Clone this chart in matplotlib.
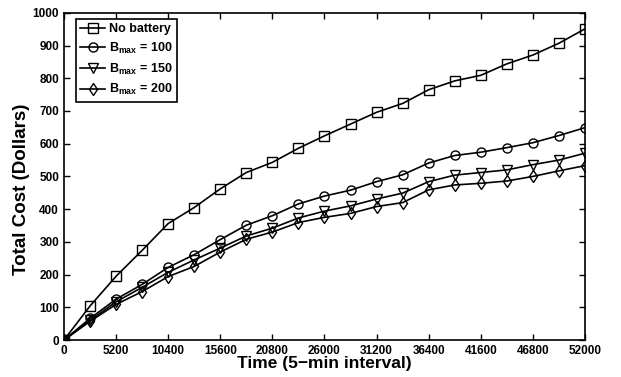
import numpy as np
import matplotlib.pyplot as plt

plt.rcParams['font.family'] = 'Liberation Sans'
plt.rcParams['font.weight'] = 'bold'
plt.rcParams['mathtext.fontset'] = 'custom'
plt.rcParams['mathtext.rm'] = 'Liberation Sans:bold'
plt.rcParams['mathtext.it'] = 'Liberation Sans:bold'

# time axis (5-min intervals)
time = np.arange(0, 52001, 2600)

# total cost in dollars
no_battery = [0, 104, 195, 274, 356, 405, 462, 512, 543, 586, 624, 660, 696,
              723, 765, 792, 809, 844, 871, 907, 951]
bmax_100 = [0, 66, 125, 170, 222, 261, 307, 351, 380, 416, 440, 458, 484,
            505, 541, 564, 574, 588, 603, 625, 649]
bmax_150 = [0, 60, 117, 161, 207, 245, 281, 318, 342, 373, 394, 410, 431,
            449, 484, 504, 512, 520, 536, 550, 571]
bmax_200 = [0, 57, 109, 148, 194, 225, 269, 308, 330, 359, 375, 387, 408,
            420, 459, 474, 479, 486, 500, 517, 533]

xticks = np.arange(0, 52001, 5200)
yticks = np.arange(0, 1001, 100)

fig = plt.figure(figsize=(6.21, 3.77), dpi=100)
ax = fig.add_axes([0.103, 0.098, 0.839, 0.868])

style = dict(color='black', lw=1.2, markersize=6.5, markerfacecolor='none',
             markeredgewidth=1.0)
ax.plot(time, no_battery, marker='s', label='No battery', **style)
ax.plot(time, bmax_100, marker='o', label='B$_{\\rm max}$ = 100', **style)
ax.plot(time, bmax_150, marker='v', label='B$_{\\rm max}$ = 150', **style)
ax.plot(time, bmax_200, marker='d', label='B$_{\\rm max}$ = 200', **style)

ax.set_xlim(0, 52000)
ax.set_ylim(0, 1000)
ax.set_xticks(xticks)
ax.set_yticks(yticks)
ax.tick_params(direction='in', top=True, right=True, labelsize=8.5,
               width=1, length=4)
for s in ax.spines.values():
    s.set_linewidth(1.2)

ax.set_xlabel('Time (5\u2212min interval)', fontsize=12.5, fontweight='bold',
              labelpad=-1)
ax.set_ylabel('Total Cost (Dollars)', fontsize=13.5, fontweight='bold')
ax.yaxis.set_label_coords(-0.065, 0.46)

leg = ax.legend(loc='upper left', bbox_to_anchor=(0.0225, 0.982),
                borderaxespad=0, fontsize=9, fancybox=False,
                edgecolor='black', framealpha=1, handlelength=2.0,
                borderpad=0.35, labelspacing=0.45, handletextpad=0.3)
leg.get_frame().set_linewidth(1.2)

fig.savefig('out.png', dpi=100)
